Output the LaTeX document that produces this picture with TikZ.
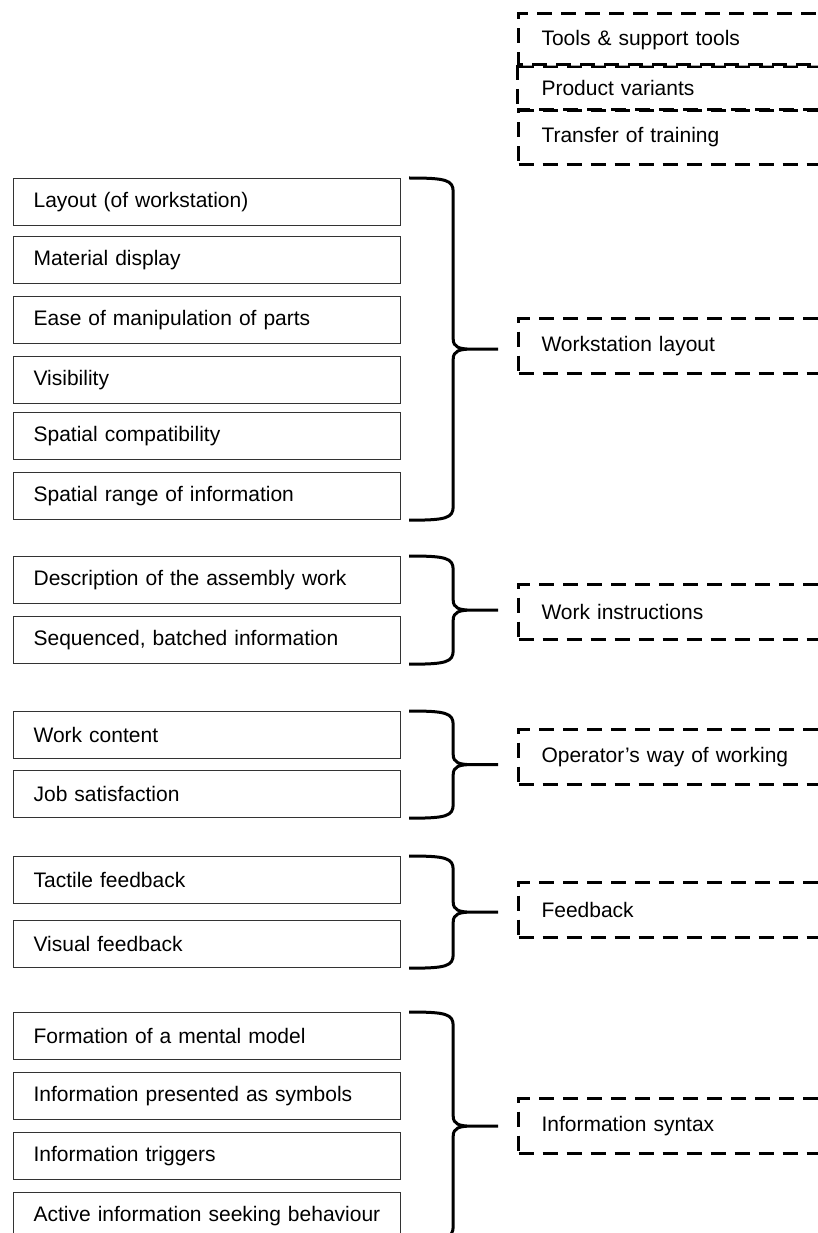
\documentclass[tikz,border=0pt]{standalone}
\usepackage{fontspec}
\setmainfont{Liberation Sans}
\usetikzlibrary{positioning, calc}
\tikzset{
    factor/.style={rectangle, draw=black!80, line width=1.2pt, anchor=north west, minimum height=47pt, text width=347pt, inner xsep=20pt, align=left, font=\fontsize{21}{25}\selectfont},
    aspect/.style={rectangle, draw=black, line width=3pt, dash pattern=on 15pt off 9pt, anchor=north west, minimum height=55pt, text width=280pt, inner xsep=23pt, align=left, font=\fontsize{21}{25}\selectfont},
    brace/.style={line width=3pt, line join=round},
}
\begin{document}
\begin{tikzpicture}[x=1pt, y=-1pt]
    \useasboundingbox (0,0) rectangle (818,1233);
    \clip (0,0) rectangle (818,1233);
    % Faktoren links
    \foreach \n/\y/\t in {f1/178/Layout (of workstation), f2/236/Material display, f3/296/Ease of manipulation of parts, f4/356/Visibility, f5/412/Spatial compatibility, f6/472/Spatial range of information, f7/556/Description of the assembly work, f8/616/{Sequenced, batched information}, f9/711/Work content, f10/770/Job satisfaction, f11/856/Tactile feedback, f12/920/Visual feedback, f13/1012/Formation of a mental model, f14/1072/Information presented as symbols, f15/1132/Information triggers, f16/1192/Active information seeking behaviour} {
        \node[factor] (\n) at (13,\y) {\t};
    }
    % Aspekte rechts
    \foreach \n/\y/\t in {ws/317/Workstation layout, wi/583/Work instructions, ow/728/Operator’s way of working, fb/881/Feedback, is/1097/Information syntax} {
        \node[aspect] (\n) at (517,\y) {\t};
    }
    % Aspekte oben
    \node[aspect, minimum height=53pt] (tt) at (517,12) {Tools \& support tools};
    \node[aspect, minimum height=43pt, draw=none] (pv) at (517,65) {Product variants};
    \draw[black!35, line width=0.8pt] (pv.north west) -- (pv.north east);
    \draw[aspect] (pv.north west) rectangle (pv.south east);
    \node[aspect] (tr) at (517,108) {Transfer of training};
    % Klammern
    \foreach \a/\b/\g in {f1/f6/ws, f7/f8/wi, f9/f10/ow, f11/f12/fb, f13/f16/is} {
        \path ($(\a.north east)+(8,0)$) coordinate (bt)
              ($(\b.south east)+(8,0)$) coordinate (bb)
              ($(bt)!0.5!(bb)$) coordinate (bm);
        \coordinate (tip) at ($(bm -| \g.west)+(-19,0)$);
        \draw[brace] (bt) .. controls +(37,0) and +(0,-12) .. ($(bt)+(44,14)$)
            -- ($(bm)+(44,-10)$) .. controls +(0,8) and +(-12,0) .. ($(bm)+(62,0)$) -- (tip)
            ($(bm)+(62,0)$) .. controls +(-12,0) and +(0,-8) .. ($(bm)+(44,10)$)
            -- ($(bb)+(44,-14)$) .. controls +(0,12) and +(37,0) .. (bb);
    }
\end{tikzpicture}
\end{document}
